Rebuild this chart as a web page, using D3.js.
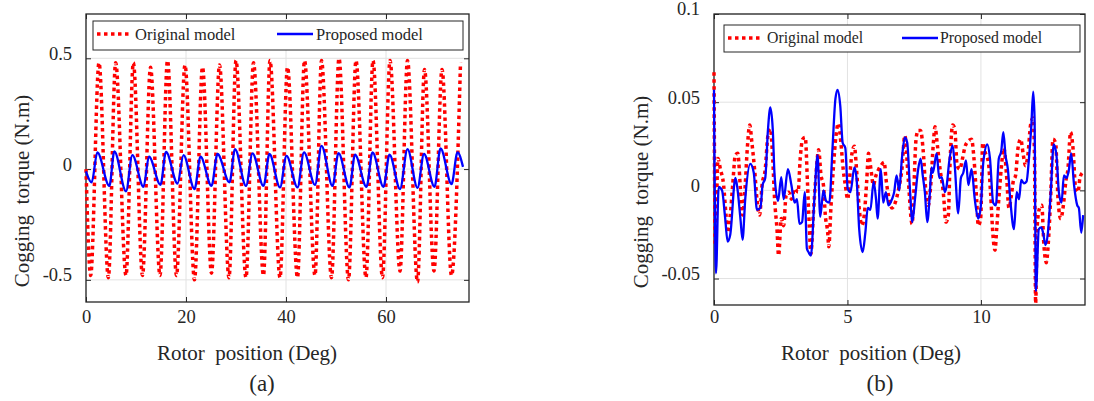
<!DOCTYPE html>
<html>
<head>
<meta charset="utf-8">
<script src="https://cdnjs.cloudflare.com/ajax/libs/d3/7.8.5/d3.min.js"></script>
<style>
  body { margin: 0; background: #fff; }
</style>
</head>
<body>
<div id="graph"></div>
<script>
// ---- panel (a): peaks / troughs ----
const origA_deg = [0, 0.93, 2.6, 4.47, 5.93, 8.0, 9.47, 11.3, 12.9, 14.8, 16.3, 18.1, 19.8, 21.7, 23.3, 25.1, 26.7, 28.6, 30.0, 32.0, 33.5, 35.5, 36.8, 38.8, 40.3, 42.3, 43.7, 45.8, 47.1, 49.1, 50.6, 52.5, 54.0, 56.0, 57.4, 59.3, 60.8, 62.8, 64.3, 66.3, 67.7, 69.6, 71.2, 73.1, 74.9];
const origA_val = [0, -0.48, 0.48, -0.49, 0.48, -0.48, 0.48, -0.48, 0.46, -0.48, 0.49, -0.48, 0.47, -0.50, 0.46, -0.47, 0.47, -0.49, 0.49, -0.49, 0.48, -0.48, 0.49, -0.49, 0.46, -0.49, 0.49, -0.48, 0.49, -0.49, 0.50, -0.50, 0.49, -0.49, 0.49, -0.49, 0.49, -0.46, 0.49, -0.51, 0.45, -0.46, 0.45, -0.48, 0.48];
const propA_deg = [0, 1.13, 2.27, 4.67, 5.67, 8.0, 9.27, 11.5, 12.6, 14.9, 16.0, 18.3, 19.5, 21.7, 22.9, 25.1, 26.3, 28.7, 29.8, 32.0, 33.3, 35.5, 36.7, 38.8, 40.1, 42.3, 43.6, 45.8, 47.1, 49.3, 50.5, 52.7, 53.8, 56.1, 57.3, 59.5, 60.7, 62.8, 64.3, 66.3, 67.6, 69.7, 70.9, 73.1, 74.3, 75.4];
const propA_val = [-0.01, -0.06, 0.075, -0.076, 0.08, -0.10, 0.063, -0.08, 0.056, -0.071, 0.078, -0.065, 0.063, -0.09, 0.056, -0.076, 0.068, -0.06, 0.09, -0.076, 0.071, -0.076, 0.068, -0.083, 0.06, -0.083, 0.075, -0.071, 0.105, -0.076, 0.072, -0.083, 0.065, -0.08, 0.075, -0.08, 0.065, -0.09, 0.09, -0.085, 0.068, -0.08, 0.093, -0.068, 0.075, 0.01];

// ---- panel (b) ----
const origB_deg = [0, 0.05, 0.15, 0.24, 0.36, 0.45, 0.52, 0.61, 0.7, 0.8, 0.89, 0.99, 1.07, 1.17, 1.24, 1.34, 1.42, 1.52, 1.61, 1.71, 1.8, 1.92, 2.02, 2.11, 2.2, 2.27, 2.36, 2.42, 2.52, 2.61, 2.7, 2.8, 2.9, 3.02, 3.15, 3.23, 3.32, 3.42, 3.5, 3.57, 3.63, 3.72, 3.82, 3.92, 4.01, 4.1, 4.17, 4.26, 4.3, 4.38, 4.47, 4.57, 4.66, 4.76, 4.84, 4.92, 5.01, 5.07, 5.17, 5.26, 5.34, 5.44, 5.54, 5.63, 5.72, 5.79, 5.88, 5.97, 6.07, 6.17, 6.25, 6.38, 6.44, 6.54, 6.67, 6.79, 6.92, 7.04, 7.15, 7.28, 7.42, 7.57, 7.65, 7.74, 7.84, 7.94, 8.03, 8.12, 8.22, 8.28, 8.37, 8.47, 8.59, 8.69, 8.78, 8.84, 8.94, 9.02, 9.11, 9.21, 9.31, 9.4, 9.53, 9.65, 9.74, 9.84, 9.9, 9.99, 10.07, 10.15, 10.28, 10.36, 10.46, 10.53, 10.59, 10.67, 10.76, 10.86, 10.96, 11.05, 11.14, 11.21, 11.3, 11.39, 11.49, 11.59, 11.67, 11.76, 11.86, 11.95, 12.01, 12.05, 12.11, 12.2, 12.28, 12.36, 12.45, 12.52, 12.61, 12.7, 12.8, 12.89, 12.99, 13.09, 13.18, 13.26, 13.36, 13.45, 13.55, 13.64, 13.71, 13.8];
const origB_val = [0.067, -0.031, 0.018, 0.012, 0.003, -0.014, -0.024, -0.014, 0.003, 0.020, 0.021, 0.001, -0.014, 0.003, 0.022, 0.037, 0.027, 0.012, -0.005, -0.014, 0.003, 0.012, 0.031, 0.035, 0.018, -0.005, -0.022, -0.037, -0.016, -0.020, -0.003, -0.001, -0.005, 0.001, -0.001, 0.018, 0.029, 0.030, 0.005, -0.020, -0.036, -0.014, 0.0085, 0.023, 0.0085, 0.003, -0.014, -0.024, -0.032, -0.010, 0.012, 0.031, 0.038, 0.026, 0.012, 0.003, -0.005, 0.005, 0.021, 0.025, 0.012, -0.010, -0.020, -0.014, 0.005, 0.021, 0.012, 0.003, 0.0085, 0.012, 0.014, 0.016, 0.007, -0.003, -0.010, -0.007, 0.001, 0.012, 0.031, 0.006, -0.019, 0.029, 0.034, 0.034, 0.022, -0.001, -0.0085, 0.003, 0.027, 0.036, 0.0255, 0.012, -0.001, -0.018, -0.014, 0.014, 0.037, 0.035, 0.014, 0.012, 0.018, 0.0245, 0.028, 0.029, 0.018, -0.005, -0.020, -0.016, 0.027, 0.022, 0.016, -0.001, -0.027, -0.034, -0.022, -0.005, 0.012, 0.024, 0.0085, -0.010, -0.003, 0.005, 0.0085, 0.024, 0.029, 0.020, 0.014, 0.020, 0.037, 0.041, 0.018, -0.064, -0.020, -0.010, -0.0085, -0.031, -0.041, -0.031, -0.005, 0.029, 0.027, -0.005, -0.016, -0.0085, 0.005, 0.012, 0.033, 0.024, 0.001, -0.001, 0.007, 0.010];
const propB_deg = [0, 0.075, 0.175, 0.3, 0.42, 0.51, 0.61, 0.8, 0.86, 0.99, 1.07, 1.17, 1.36, 1.49, 1.61, 1.74, 1.82, 1.92, 2.02, 2.11, 2.2, 2.27, 2.4, 2.52, 2.61, 2.77, 2.9, 3.02, 3.11, 3.2, 3.3, 3.4, 3.48, 3.54, 3.63, 3.76, 3.88, 3.98, 4.1, 4.2, 4.32, 4.44, 4.55, 4.63, 4.73, 4.82, 4.92, 5.01, 5.11, 5.26, 5.34, 5.44, 5.57, 5.67, 5.76, 5.86, 5.98, 6.07, 6.13, 6.25, 6.34, 6.44, 6.54, 6.67, 6.75, 6.84, 6.94, 7.04, 7.15, 7.24, 7.34, 7.43, 7.53, 7.65, 7.74, 7.82, 7.9, 7.99, 8.09, 8.15, 8.2, 8.34, 8.44, 8.53, 8.65, 8.72, 8.81, 8.94, 9.02, 9.15, 9.25, 9.34, 9.44, 9.53, 9.65, 9.77, 9.9, 10.0, 10.09, 10.24, 10.34, 10.46, 10.56, 10.67, 10.76, 10.84, 10.92, 11.01, 11.11, 11.24, 11.34, 11.43, 11.51, 11.61, 11.71, 11.8, 11.89, 11.96, 12.01, 12.06, 12.17, 12.26, 12.33, 12.42, 12.51, 12.61, 12.73, 12.83, 12.92, 13.02, 13.11, 13.21, 13.3, 13.38, 13.49, 13.61, 13.67, 13.76, 13.83];
const propB_val = [0.057, -0.047, 0.002, 0, -0.016, -0.029, -0.025, 0.007, 0.003, -0.016, -0.028, -0.005, 0.015, 0.010, -0.011, -0.010, 0.003, 0.007, 0.034, 0.047, 0.035, 0.0085, -0.006, 0.0075, -0.005, 0.012, 0.003, -0.007, -0.005, -0.019, -0.018, -0.001, -0.033, -0.035, -0.037, -0.005, 0.020, -0.015, 0, -0.006, -0.007, 0.024, 0.052, 0.057, 0.048, 0.027, 0.024, 0.001, -0.001, 0.013, 0.007, -0.022, -0.035, -0.024, -0.010, -0.011, 0.005, -0.005, -0.016, 0.012, -0.007, -0.001, -0.0085, -0.005, -0.001, 0.0085, 0, 0.018, 0.030, 0.027, 0.001, -0.018, -0.005, 0.012, 0.018, 0.0085, -0.001, -0.018, -0.001, 0.013, 0.010, 0.021, 0.007, 0.0075, -0.001, 0.003, 0.016, 0.0255, 0.014, -0.013, 0.007, 0.010, 0.017, 0.003, 0.012, -0.005, -0.016, -0.0085, 0.016, 0.026, 0.018, -0.007, -0.0085, 0.018, 0.022, 0.033, 0.020, 0.012, -0.007, -0.022, -0.001, -0.005, 0.006, 0.004, 0.005, 0.018, 0.037, 0.056, 0.041, -0.057, -0.022, -0.021, -0.024, -0.031, -0.024, -0.003, 0.026, 0.020, -0.001, -0.007, 0.0085, 0.007, 0.012, 0.021, 0.003, -0.0085, -0.010, -0.024, -0.014];

// ticks and texts
const xTicksA = [0, 20, 40, 60];
const yTicksA = [-0.5, 0, 0.5];
const yTickLabelsA = ['-0.5', '0', '0.5'];
const xTicksB = [0, 5, 10];
const yTicksB = [-0.05, 0, 0.05, 0.1];
const yTickLabelsB = ['-0.05', '0', '0.05', '0.1'];
const seriesNames = ['Original model', 'Proposed model'];

const svgWidth = 1094;
const svgHeight = 401;
const red = '#ff0000';
const blue = '#0000ff';
const axisColor = '#262626';
const serif = "'Liberation Serif', 'Times New Roman', serif";

const svg = d3.select('#graph')
  .append('svg')
  .attr('width', svgWidth)
  .attr('height', svgHeight)
  .style('display', 'block');

svg.append('rect').attr('width', svgWidth).attr('height', svgHeight).attr('fill', '#fff');

function drawPanel(p) {
  const x = d3.scaleLinear().domain(p.xDomain).range([p.left, p.right]);
  const y = d3.scaleLinear().domain(p.yDomain).range([p.bottom, p.top]);
  const g = svg.append('g');

  // grid
  g.append('g').selectAll('line').data(p.xTicks).join('line')
    .attr('x1', d => x(d)).attr('x2', d => x(d))
    .attr('y1', p.top).attr('y2', p.bottom)
    .attr('stroke', '#e2e2e2').attr('stroke-width', 1);
  g.append('g').selectAll('line').data(p.yTicks).join('line')
    .attr('x1', p.left).attr('x2', p.right)
    .attr('y1', d => y(d)).attr('y2', d => y(d))
    .attr('stroke', '#e2e2e2').attr('stroke-width', 1);

  // axes (ticks inward, MATLAB box style)
  const bottom = g.append('g')
    .attr('transform', `translate(0, ${p.bottom})`)
    .call(d3.axisBottom(x).tickValues(p.xTicks).tickSizeInner(-5).tickSizeOuter(0).tickPadding(p.xPad));
  const left = g.append('g')
    .attr('transform', `translate(${p.left}, 0)`)
    .call(d3.axisLeft(y).tickValues(p.yTicks).tickFormat((d, i) => p.yTickLabels[i])
      .tickSizeInner(-5).tickSizeOuter(0).tickPadding(p.yPad));
  const top = g.append('g')
    .attr('transform', `translate(0, ${p.top})`)
    .call(d3.axisTop(x).tickValues(p.xTicks).tickFormat('').tickSizeInner(-5).tickSizeOuter(0));
  const right = g.append('g')
    .attr('transform', `translate(${p.right}, 0)`)
    .call(d3.axisRight(y).tickValues(p.yTicks).tickFormat('').tickSizeInner(-5).tickSizeOuter(0));

  [bottom, left, top, right].forEach(a => {
    a.select('.domain').remove();
    a.selectAll('line').attr('stroke', axisColor).attr('stroke-width', 1);
    a.attr('font-size', 18.5);
  });
  left.selectAll('text').attr('dy', '0.05em');

  // frame
  g.append('rect')
    .attr('x', p.left).attr('y', p.top)
    .attr('width', p.right - p.left).attr('height', p.bottom - p.top)
    .attr('fill', 'none').attr('stroke', axisColor).attr('stroke-width', 1.3);

  const line = d3.line()
    .x(d => x(d[0]))
    .y(d => y(d[1]))
    .curve(d3.curveMonotoneX);

  g.append('path')
    .attr('d', line(d3.zip(p.origDeg, p.origVal)))
    .attr('fill', 'none').attr('stroke', red)
    .attr('stroke-width', 3.5).attr('stroke-dasharray', '3.5,3.5');
  g.append('path')
    .attr('d', line(d3.zip(p.propDeg, p.propVal)))
    .attr('fill', 'none').attr('stroke', blue)
    .attr('stroke-width', 2.3).attr('stroke-linejoin', 'round');

  // legend
  const L = p.legend;
  g.append('rect')
    .attr('x', L.x).attr('y', L.y).attr('width', L.w).attr('height', L.h)
    .attr('fill', '#fff').attr('stroke', axisColor).attr('stroke-width', 1);
  g.append('line')
    .attr('x1', L.s1[0]).attr('x2', L.s1[1]).attr('y1', L.ly).attr('y2', L.ly)
    .attr('stroke', red).attr('stroke-width', 3.5).attr('stroke-dasharray', '3.5,3.5');
  g.append('line')
    .attr('x1', L.s2[0]).attr('x2', L.s2[1]).attr('y1', L.ly).attr('y2', L.ly)
    .attr('stroke', blue).attr('stroke-width', 2.3);
  g.append('text').attr('x', L.t1).attr('y', L.ty).attr('font-size', L.fs).text(seriesNames[0]);
  g.append('text').attr('x', L.t2).attr('y', L.ty).attr('font-size', L.fs).text(seriesNames[1]);

  // axis titles (double spaces as in the original)
  g.append('text')
    .attr('x', p.xLabel[0]).attr('y', p.xLabel[1])
    .attr('text-anchor', 'middle').attr('font-size', 21)
    .text('Rotor\u00a0 position (Deg)');
  g.append('text')
    .attr('transform', `translate(${p.yLabel[0]}, ${p.yLabel[1]}) rotate(-90)`)
    .attr('text-anchor', 'middle').attr('font-size', 21)
    .text('Cogging\u00a0 torque (N.m)');
  g.append('text')
    .attr('x', p.cap[0]).attr('y', p.cap[1])
    .attr('text-anchor', 'middle').attr('font-size', 23)
    .text(p.caption);
}

drawPanel({
  left: 86, right: 469, top: 14, bottom: 302,
  xDomain: [0, 76.6], yDomain: [-0.6, 0.7],
  xTicks: xTicksA, yTicks: yTicksA, yTickLabels: yTickLabelsA,
  xPad: 8, yPad: 14,
  origDeg: origA_deg, origVal: origA_val, propDeg: propA_deg, propVal: propA_val,
  legend: { x: 93, y: 21, w: 370, h: 29, ly: 34, s1: [97, 130], s2: [277, 313], t1: 135, t2: 316, ty: 39.5, fs: 16.5 },
  xLabel: [247, 360], yLabel: [29, 191], cap: [262, 391], caption: '(a)'
});

drawPanel({
  left: 714, right: 1085, top: 14, bottom: 305,
  xDomain: [0, 13.9], yDomain: [-0.065, 0.1],
  xTicks: xTicksB, yTicks: yTicksB, yTickLabels: yTickLabelsB,
  xPad: 5, yPad: 14,
  origDeg: origB_deg, origVal: origB_val, propDeg: propB_deg, propVal: propB_val,
  legend: { x: 724, y: 25, w: 356, h: 27, ly: 38, s1: [728, 762], s2: [902, 938], t1: 767, t2: 940, ty: 42.5, fs: 15.8 },
  xLabel: [871, 360], yLabel: [648, 192], cap: [880, 391], caption: '(b)'
});

// every text gets the serif face and dark grey ink directly
svg.selectAll('text').attr('font-family', serif).attr('fill', axisColor);
</script>
</body>
</html>
